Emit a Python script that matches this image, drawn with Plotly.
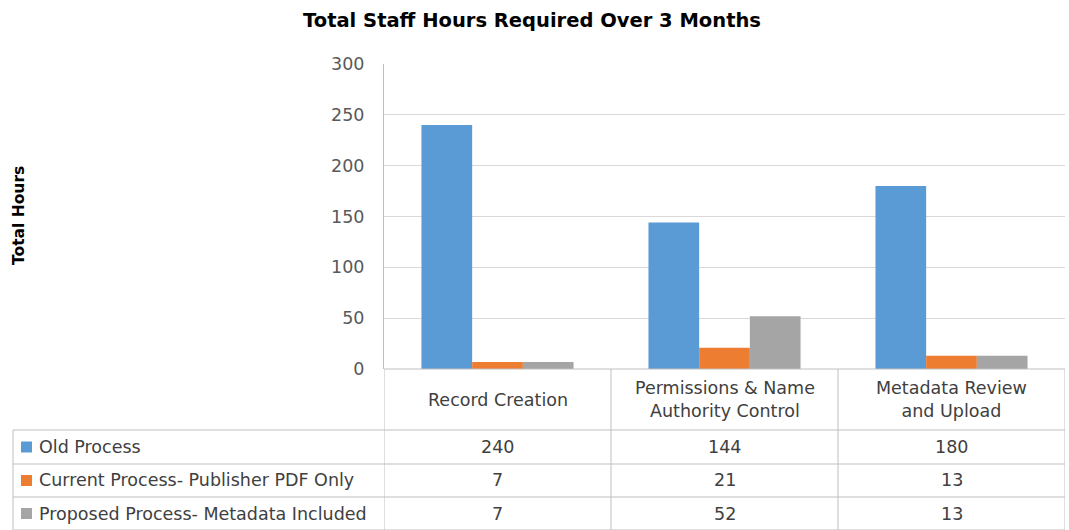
import plotly.graph_objects as go

categories = ["Record Creation", "Permissions & Name<br>Authority Control", "Metadata Review<br>and Upload"]
series_names = ["Old Process", "Current Process- Publisher PDF Only", "Proposed Process- Metadata Included"]
old_process = [240, 144, 180]
current_process = [7, 21, 13]
proposed_process = [7, 52, 13]
series_values = [old_process, current_process, proposed_process]
colors = ["#5B9BD5", "#ED7D31", "#A5A5A5"]
y_ticks = [0, 50, 100, 150, 200, 250, 300]

W, H = 1069, 530
L, R, T, B = 384, 4, 64, 161
pw = W - L - R
ph = H - T - B

def px_to_paper_x(px):
    return (px - L) / pw

def py_to_paper_y(py):
    return (H - B - py) / ph

FONT = "DejaVu Sans"
TXT = "#404040"
BORDER = "#BFBFBF"
FS = 17.5

fig = go.Figure()
xidx = list(range(len(categories)))
for name, vals, col in zip(series_names, series_values, colors):
    fig.add_trace(go.Bar(x=xidx, y=vals, name=name, marker=dict(color=col, line=dict(width=0))))

shapes = []
annotations = []

row_y = [369, 430, 464, 497, 530]
left_px = 13

def vline(x, xref, ya, yb):
    shapes.append(dict(type="line", xref=xref, yref="paper", x0=x, x1=x,
                       y0=py_to_paper_y(ya), y1=py_to_paper_y(yb),
                       line=dict(color=BORDER, width=1)))

shapes.append(dict(type="line", xref="x", yref="paper", x0=-0.5, x1=len(categories) - 0.5,
                   y0=py_to_paper_y(row_y[0]), y1=py_to_paper_y(row_y[0]), line=dict(color=BORDER, width=1)))
for ry in row_y[1:]:
    shapes.append(dict(type="line", xref="paper", yref="paper", x0=px_to_paper_x(left_px), x1=1,
                       y0=py_to_paper_y(ry), y1=py_to_paper_y(ry), line=dict(color=BORDER, width=1)))
for b in [i - 0.5 for i in range(len(categories) + 1)]:
    vline(b, "x", row_y[0], row_y[-1])
vline(px_to_paper_x(left_px), "paper", row_y[1], row_y[-1])

for i, c in enumerate(categories):
    annotations.append(dict(x=i, y=py_to_paper_y((row_y[0] + row_y[1]) / 2), xref="x", yref="paper",
                            text=c, showarrow=False, font=dict(family=FONT, size=FS, color=TXT),
                            xanchor="center", yanchor="middle"))
for r, (name, vals, col) in enumerate(zip(series_names, series_values, colors)):
    yc = (row_y[r + 1] + row_y[r + 2]) / 2
    for i, v in enumerate(vals):
        annotations.append(dict(x=i, y=py_to_paper_y(yc), xref="x", yref="paper", text=str(v),
                                showarrow=False, font=dict(family=FONT, size=FS, color=TXT),
                                xanchor="center", yanchor="middle"))
    annotations.append(dict(x=px_to_paper_x(37), y=py_to_paper_y(yc), xref="paper", yref="paper", text=name,
                            showarrow=False, font=dict(family=FONT, size=FS, color=TXT),
                            xanchor="left", yanchor="middle"))
    shapes.append(dict(type="rect", xref="paper", yref="paper",
                       x0=px_to_paper_x(21), x1=px_to_paper_x(32),
                       y0=py_to_paper_y(yc - 5.5), y1=py_to_paper_y(yc + 5.5),
                       fillcolor=col, line=dict(width=0)))

annotations.append(dict(x=px_to_paper_x(19), y=py_to_paper_y(216), xref="paper", yref="paper",
                        text="<b>Total Hours</b>", textangle=-90, showarrow=False,
                        font=dict(family=FONT, size=15.5, color="#000000"),
                        xanchor="center", yanchor="middle"))

fig.update_layout(
    width=W, height=H,
    margin=dict(l=L, r=R, t=T, b=B),
    paper_bgcolor="white", plot_bgcolor="white",
    title=dict(text="<b>Total Staff Hours Required Over 3 Months</b>", x=532 / W, xanchor="center",
               y=1 - 20 / H, yanchor="middle", font=dict(family=FONT, size=19.5, color="#000000")),
    showlegend=False,
    bargap=0.33, bargroupgap=0,
    xaxis=dict(range=[-0.5, len(categories) - 0.5], showticklabels=False, showgrid=False,
               zeroline=False, showline=False, fixedrange=True),
    yaxis=dict(range=[0, 300], tickvals=y_ticks, showgrid=True, gridcolor="#D9D9D9", gridwidth=1,
               zeroline=False, showline=True, linecolor=BORDER, linewidth=1, ticks="",
               ticklabelstandoff=15, tickfont=dict(family=FONT, size=FS, color="#595959")),
    shapes=shapes, annotations=annotations,
)

fig.write_html("out.html", config={"displayModeBar": False},
               post_script="document.body.style.margin='0';document.body.style.padding='0';")
